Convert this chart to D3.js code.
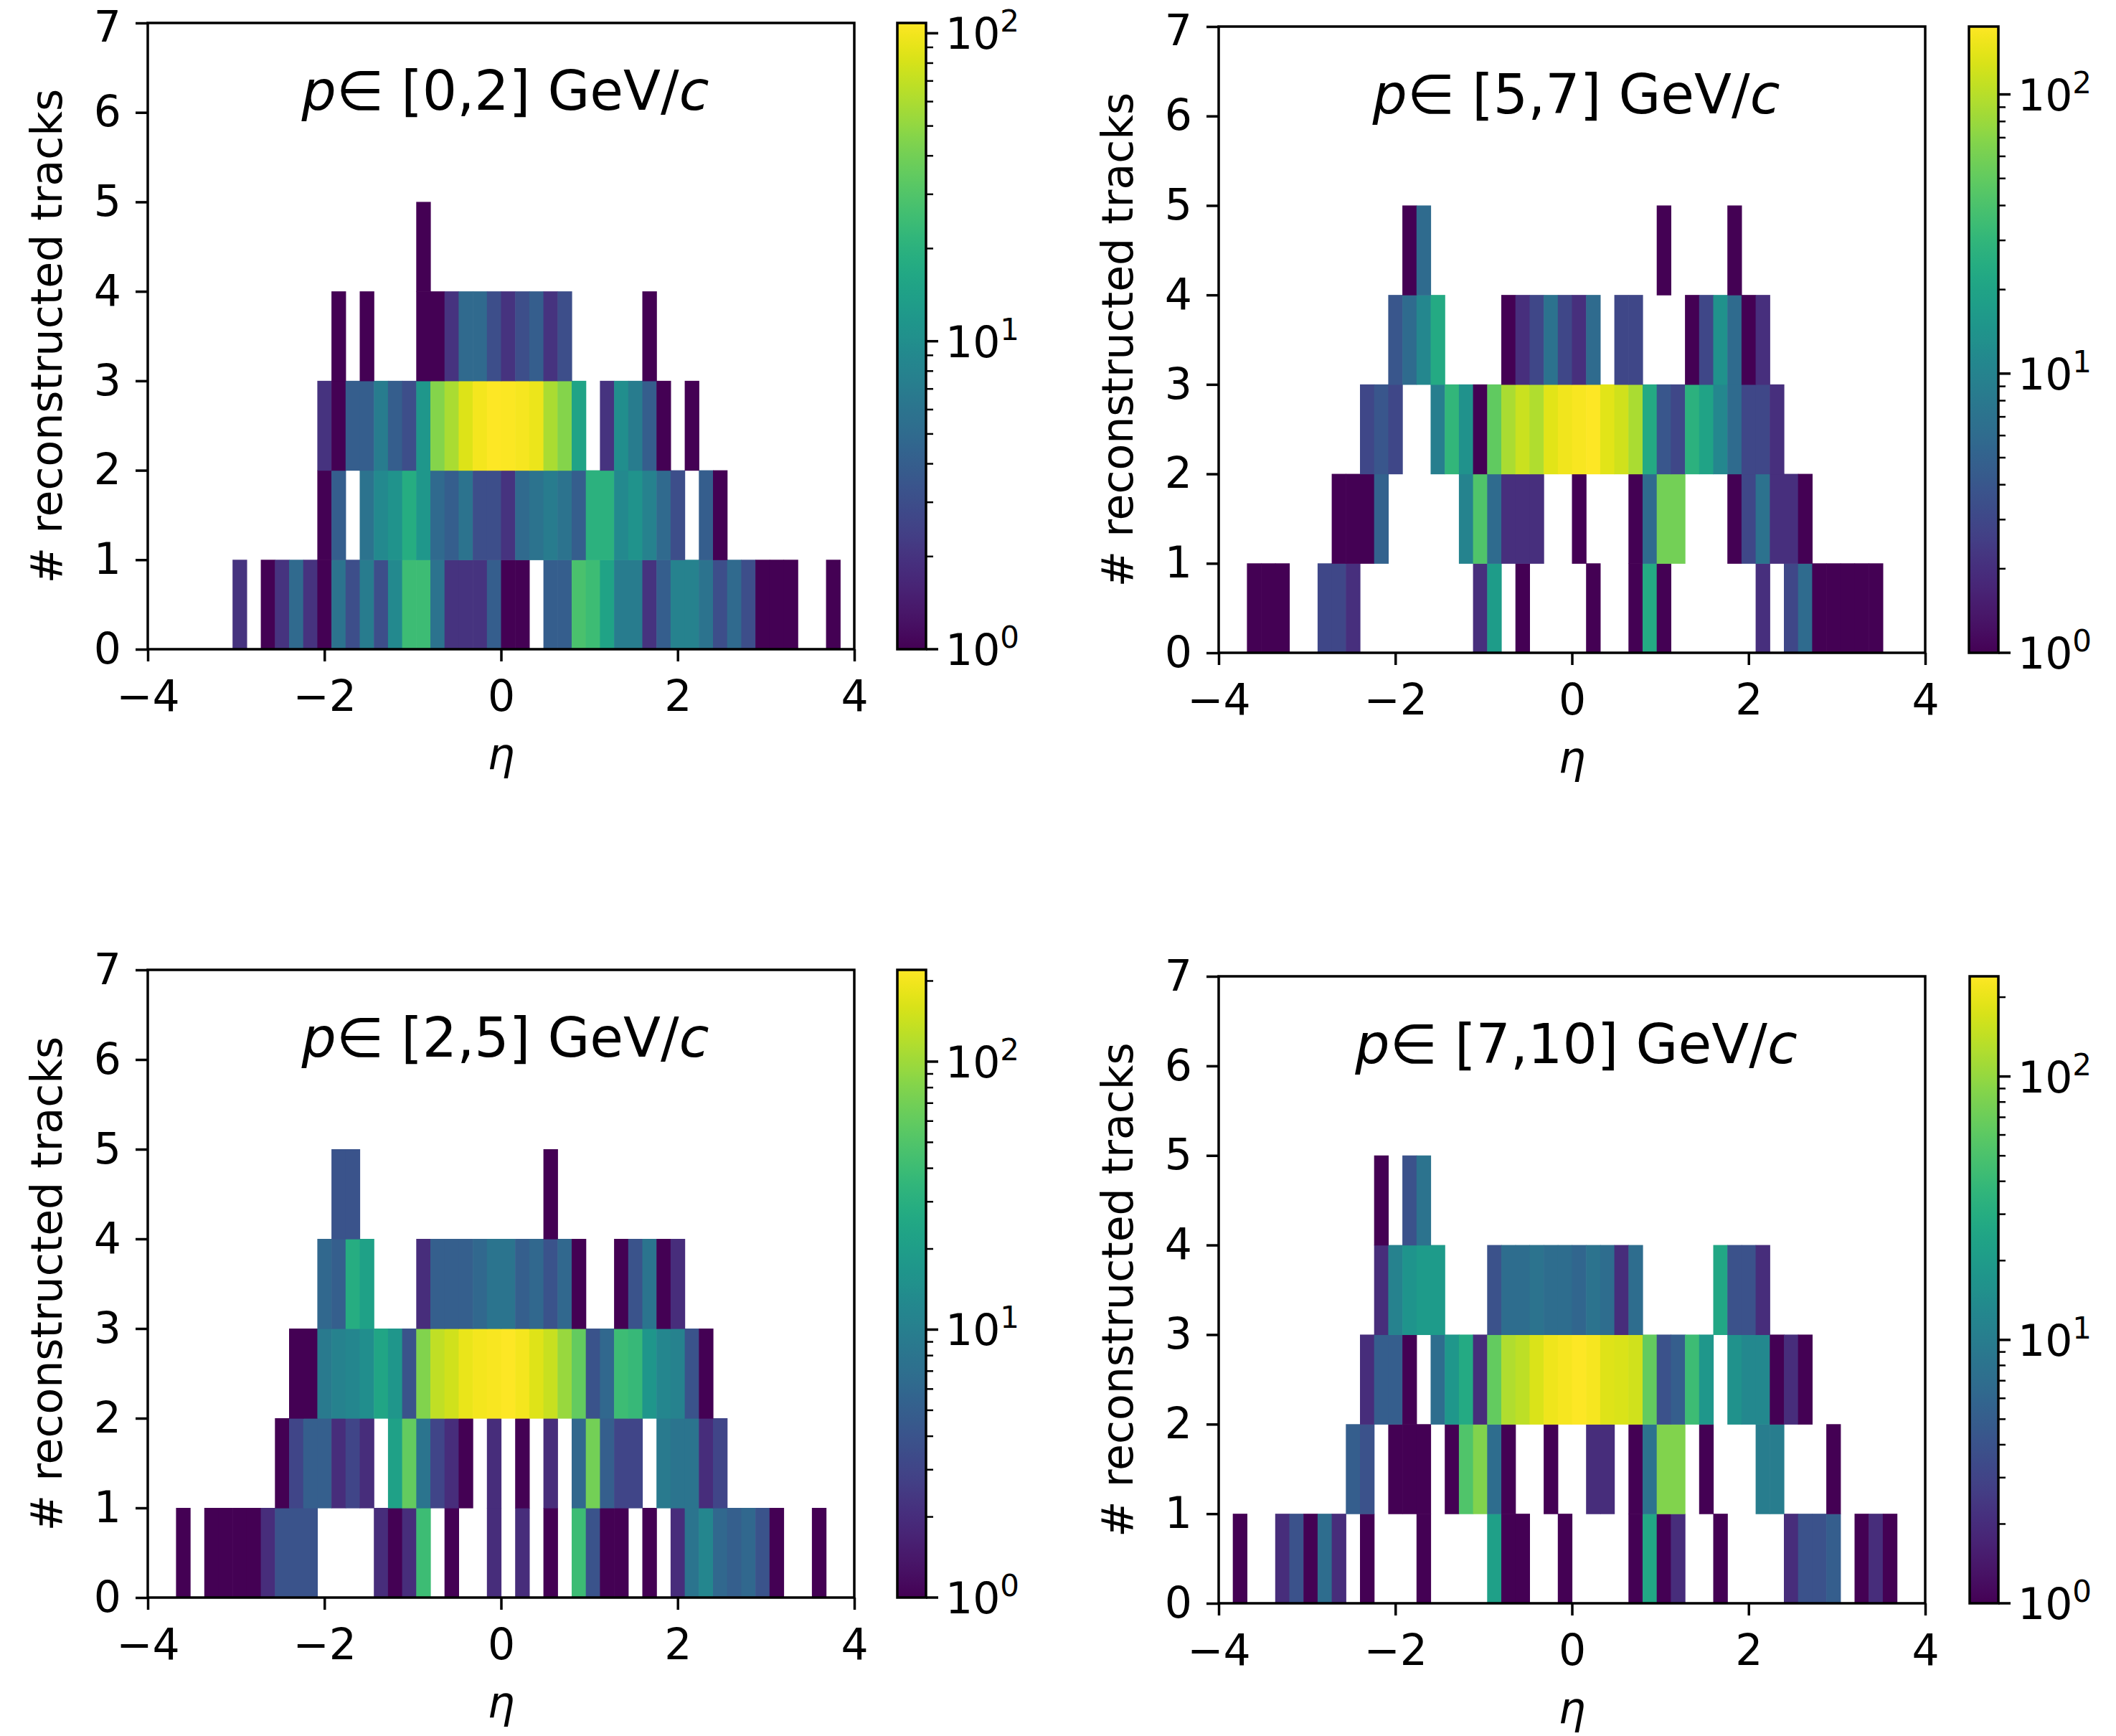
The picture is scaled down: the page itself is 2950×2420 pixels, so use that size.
<!DOCTYPE html>
<html><head><meta charset="utf-8">
<script src="https://cdn.jsdelivr.net/npm/d3@7"></script>
<style>
body{margin:0;background:#fff}
svg{display:block}
text{font-family:"DejaVu Sans",sans-serif;fill:#000}
</style>
</head><body>
<svg id="fig" width="2950" height="2420"></svg>
<script>
// ---------------- data ----------------
const etaRange = [-4, 4];          // histogram range in eta
const nEtaBins = 50;               // number of eta bins
const trackRange = [0, 7];         // y range (# reconstructed tracks), 1 bin per track count
const trackTicks = [0, 1, 2, 3, 4, 5, 6, 7];
const etaTicks = [-4, -2, 0, 2, 4];
const momentumRanges = ["[0,2]", "[5,7]", "[2,5]", "[7,10]"];

// counts[row = # tracks bin][eta bin]
const counts_p0to2 = [
  [0,0,0,0,0,0,2,0,1,2, 5,2,1,6,3,7,3,9,25,25, 6,2,2,2,4,1,1,0,4,4, 28,25,15,7,7,2,4,8,8,6, 3,5,3,1,1,1,0,0,1,0],
  [0,0,0,0,0,0,0,0,0,0, 0,0,1,4,0,6,9,11,18,12, 5,4,6,3,3,2,5,6,7,6, 4,20,20,9,11,8,5,3,0,4, 1,0,0,0,0,0,0,0,0,0],
  [0,0,0,0,0,0,0,0,0,0, 0,0,2,1,4,4,7,4,3,12, 45,60,85,100,108,105,102,95,60,45, 15,0,2,10,7,4,1,0,1,0, 0,0,0,0,0,0,0,0,0,0],
  [0,0,0,0,0,0,0,0,0,0, 0,0,0,1,0,1,0,0,0,1, 1,2,5,5,3,2,3,4,2,3, 0,0,0,0,0,1,0,0,0,0, 0,0,0,0,0,0,0,0,0,0],
  [0,0,0,0,0,0,0,0,0,0, 0,0,0,0,0,0,0,0,0,1, 0,0,0,0,0,0,0,0,0,0, 0,0,0,0,0,0,0,0,0,0, 0,0,0,0,0,0,0,0,0,0]
];
const counts_p5to7 = [
  [0,0,1,1,1,0,0,3,3,2, 0,0,0,0,0,0,0,0,2,17, 0,1,0,0,0,0,1,0,0,1, 23,1,0,0,0,0,0,0,2,0, 3,6,1,1,1,1,1,0,0,0],
  [0,0,0,0,0,0,0,0,1,1, 1,5,0,0,0,0,0,10,42,6, 2,2,2,0,0,1,0,0,0,1, 6,58,58,0,0,0,1,3,7,2, 2,1,0,0,0,0,0,0,0,0],
  [0,0,0,0,0,0,0,0,0,0, 3,4,3,0,0,9,30,14,1,50, 90,115,95,140,158,165,175,138,120,90, 23,4,3,27,20,11,6,3,3,2, 0,0,0,0,0,0,0,0,0,0],
  [0,0,0,0,0,0,0,0,0,0, 0,0,4,6,11,23,0,0,0,0, 1,2,3,7,3,2,6,0,3,3, 0,0,0,1,3,14,6,1,2,0, 0,0,0,0,0,0,0,0,0,0],
  [0,0,0,0,0,0,0,0,0,0, 0,0,0,1,6,0,0,0,0,0, 0,0,0,0,0,0,0,0,0,0, 0,1,0,0,0,0,1,0,0,0, 0,0,0,0,0,0,0,0,0,0]
];
const counts_p2to5 = [
  [0,0,1,0,1,1,1,1,2,4, 4,4,0,0,0,0,2,1,2,40, 0,1,0,0,2,0,2,0,1,0, 40,4,1,1,0,1,0,2,8,12, 6,5,6,4,1,0,0,1,0,0],
  [0,0,0,0,0,0,0,0,0,1, 3,5,5,2,3,2,0,22,60,8, 3,2,1,0,2,0,1,0,2,0, 6,70,5,3,3,0,9,8,8,2, 3,0,0,0,0,0,0,0,0,0],
  [0,0,0,0,0,0,0,0,0,0, 1,1,9,11,12,14,24,17,4,80, 130,150,185,200,210,220,200,170,140,95, 60,4,6,40,37,17,12,11,4,1, 0,0,0,0,0,0,0,0,0,0],
  [0,0,0,0,0,0,0,0,0,0, 0,0,6,5,28,22,0,0,0,2, 5,5,5,6,8,8,5,6,4,6, 1,0,0,1,4,8,1,2,0,0, 0,0,0,0,0,0,0,0,0,0],
  [0,0,0,0,0,0,0,0,0,0, 0,0,0,4,4,0,0,0,0,0, 0,0,0,0,0,0,0,0,1,0, 0,0,0,0,0,0,0,0,0,0, 0,0,0,0,0,0,0,0,0,0]
];
const counts_p7to10 = [
  [0,1,0,0,2,4,1,7,2,0, 1,0,0,0,1,0,0,0,0,22, 1,1,0,0,1,0,0,0,0,1, 26,1,2,0,0,1,0,0,0,0, 2,4,4,5,0,1,2,1,0,0],
  [0,0,0,0,0,0,0,0,0,5, 4,0,1,1,1,0,1,53,85,7, 1,0,0,1,0,0,2,2,0,1, 8,85,85,0,1,0,0,0,10,10, 0,0,0,1,0,0,0,0,0,0],
  [0,0,0,0,0,0,0,0,0,0, 2,5,5,1,0,7,18,28,2,65, 125,140,175,210,225,240,225,185,175,160, 65,4,5,43,18,0,16,13,13,1, 2,1,0,0,0,0,0,0,0,0],
  [0,0,0,0,0,0,0,0,0,0, 0,2,11,17,20,20,0,0,0,4, 7,7,8,7,7,6,8,7,2,7, 0,0,0,0,0,26,4,4,2,0, 0,0,0,0,0,0,0,0,0,0],
  [0,0,0,0,0,0,0,0,0,0, 0,1,0,4,8,0,0,0,0,0, 0,0,0,0,0,0,0,0,0,0, 0,0,0,0,0,0,0,0,0,0, 0,0,0,0,0,0,0,0,0,0]
];
const panelCounts = [counts_p0to2, counts_p5to7, counts_p2to5, counts_p7to10];

// ---------------- layout ----------------
const layout = [
  {x0: 206,  x1: 1191, y0: 32,   y1: 905,  cb0: 1251, cb1: 1291},
  {x0: 1699, x1: 2684, y0: 37,   y1: 910,  cb0: 2745, cb1: 2786},
  {x0: 206,  x1: 1191, y0: 1352, y1: 2227, cb0: 1251, cb1: 1291},
  {x0: 1699, x1: 2684, y0: 1361, y1: 2235, cb0: 2746, cb1: 2786}
];
const FS = 60, TFS = 76, LW = 3.5, TICK = 17, MINOR = 10;

const svg = d3.select("#fig");
const defs = svg.append("defs");
const grad = defs.append("linearGradient").attr("id", "viridisGrad")
  .attr("x1", 0).attr("y1", 1).attr("x2", 0).attr("y2", 0);
d3.range(0, 1.0001, 0.02).forEach(t => grad.append("stop")
  .attr("offset", t).attr("stop-color", d3.interpolateViridis(t)));

panelCounts.forEach((counts, i) => {
  const L = layout[i];
  const x = d3.scaleLinear().domain(etaRange).range([L.x0, L.x1]);
  const y = d3.scaleLinear().domain(trackRange).range([L.y1, L.y0]);
  const vmax = d3.max(counts.flat());
  const color = d3.scaleSequentialLog(d3.interpolateViridis).domain([1, vmax]);
  const w = (etaRange[1] - etaRange[0]) / nEtaBins;
  const edge = k => etaRange[0] + k * w;

  const cells = [];
  counts.forEach((row, r) => row.forEach((c, k) => { if (c > 0) cells.push({r, k, c}); }));

  const g = svg.append("g");
  g.selectAll("rect.cell").data(cells).join("rect").attr("class", "cell")
    .attr("x", d => x(edge(d.k)))
    .attr("width", d => x(edge(d.k + 1)) - x(edge(d.k)) + 0.6)
    .attr("y", d => y(d.r + 1))
    .attr("height", d => y(d.r) - y(d.r + 1) + 0.6)
    .attr("fill", d => color(d.c));

  // title
  const tt = g.append("text")
    .attr("x", (L.x0 + L.x1) / 2 + 6).attr("y", L.y0 + 121)
    .attr("text-anchor", "middle").attr("font-size", TFS);
  tt.append("tspan").attr("font-style", "italic").text("p");
  tt.append("tspan").text("\u2208 ");
  tt.append("tspan").text(" " + momentumRanges[i] + " GeV/");
  tt.append("tspan").attr("font-style", "italic").text("c");

  // frame
  g.append("rect").attr("x", L.x0).attr("y", L.y0)
    .attr("width", L.x1 - L.x0).attr("height", L.y1 - L.y0)
    .attr("fill", "none").attr("stroke", "#000").attr("stroke-width", LW);

  // x axis
  const xa = g.append("g").attr("transform", `translate(0,${L.y1})`)
    .call(d3.axisBottom(x).tickValues(etaTicks).tickSize(TICK).tickSizeOuter(0).tickPadding(26)
      .tickFormat(d3.format("d")));
  xa.select(".domain").remove();
  xa.selectAll(".tick line").attr("stroke", "#000").attr("stroke-width", LW);
  xa.selectAll(".tick text").attr("font-size", FS).attr("font-family", "DejaVu Sans").attr("fill", "#000");

  // y axis
  const ya = g.append("g").attr("transform", `translate(${L.x0},0)`)
    .call(d3.axisLeft(y).tickValues(trackTicks).tickSize(TICK).tickSizeOuter(0).tickPadding(20)
      .tickFormat(d3.format("d")));
  ya.select(".domain").remove();
  ya.selectAll(".tick line").attr("stroke", "#000").attr("stroke-width", LW);
  ya.selectAll(".tick text").attr("font-size", FS).attr("font-family", "DejaVu Sans").attr("fill", "#000")
    .attr("dy", d => (d === trackRange[1] && L.y0 < 60) ? "0.42em" : "0.32em");

  // axis labels
  g.append("text").attr("x", (L.x0 + L.x1) / 2).attr("y", L.y1 + 167)
    .attr("text-anchor", "middle").attr("font-size", FS).attr("font-style", "italic").text("\u03b7");
  g.append("text")
    .attr("transform", `translate(${L.x0 - 120},${(L.y0 + L.y1) / 2}) rotate(-90)`)
    .attr("text-anchor", "middle").attr("font-size", FS).text("# reconstructed tracks");

  // colorbar
  const cy = d3.scaleLog().domain([1, vmax]).range([L.y1, L.y0]);
  g.append("rect").attr("x", L.cb0).attr("y", L.y0)
    .attr("width", L.cb1 - L.cb0).attr("height", L.y1 - L.y0)
    .attr("fill", "url(#viridisGrad)").attr("stroke", "#000").attr("stroke-width", LW);
  const minors = [];
  [1, 10, 100].forEach(dec => d3.range(2, 10).forEach(m => { if (m * dec < vmax) minors.push(m * dec); }));
  g.selectAll("line.minor").data(minors).join("line").attr("class", "minor")
    .attr("x1", L.cb1).attr("x2", L.cb1 + MINOR)
    .attr("y1", d => cy(d)).attr("y2", d => cy(d))
    .attr("stroke", "#000").attr("stroke-width", 2.5);
  const majors = [1, 10, 100].filter(v => v <= vmax);
  g.selectAll("line.major").data(majors).join("line").attr("class", "major")
    .attr("x1", L.cb1).attr("x2", L.cb1 + TICK)
    .attr("y1", d => cy(d)).attr("y2", d => cy(d))
    .attr("stroke", "#000").attr("stroke-width", LW);
  majors.forEach(v => {
    const t = g.append("text").attr("x", L.cb1 + 27).attr("y", cy(v) + 22).attr("font-size", FS);
    t.append("tspan").text("10");
    t.append("tspan").attr("dy", -24).attr("font-size", 42).text(Math.round(Math.log10(v)));
  });
});
</script>
</body></html>
